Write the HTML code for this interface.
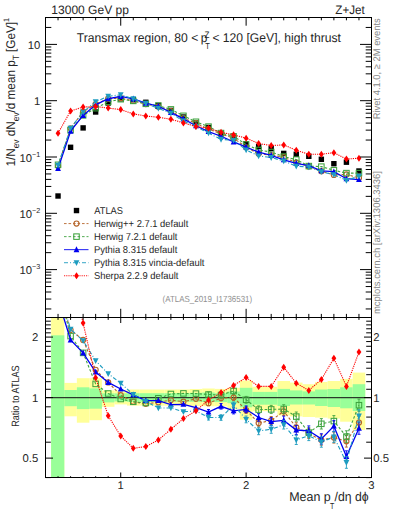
<!DOCTYPE html><html><head><meta charset="utf-8"><style>html,body{margin:0;padding:0;background:#fff;}svg{display:block;}</style></head><body>
<svg width="393" height="512" viewBox="0 0 393 512" text-rendering="geometricPrecision">
<rect width="393" height="512" fill="#fff"/>
<defs><clipPath id="cm"><rect x="45.5" y="17.5" width="326" height="300"/></clipPath><clipPath id="cr"><rect x="45.5" y="317.5" width="326" height="160"/></clipPath></defs>
<g clip-path="url(#cm)">
<rect x="55.34" y="193.30" width="5.40" height="5.40" fill="#000"/>
<rect x="67.88" y="144.60" width="5.40" height="5.40" fill="#000"/>
<rect x="80.42" y="125.20" width="5.40" height="5.40" fill="#000"/>
<rect x="92.95" y="109.30" width="5.40" height="5.40" fill="#000"/>
<rect x="105.49" y="100.30" width="5.40" height="5.40" fill="#000"/>
<rect x="118.03" y="96.10" width="5.40" height="5.40" fill="#000"/>
<rect x="130.57" y="97.00" width="5.40" height="5.40" fill="#000"/>
<rect x="143.11" y="99.60" width="5.40" height="5.40" fill="#000"/>
<rect x="155.65" y="102.70" width="5.40" height="5.40" fill="#000"/>
<rect x="168.18" y="107.70" width="5.40" height="5.40" fill="#000"/>
<rect x="180.72" y="114.30" width="5.40" height="5.40" fill="#000"/>
<rect x="193.26" y="120.20" width="5.40" height="5.40" fill="#000"/>
<rect x="205.80" y="124.80" width="5.40" height="5.40" fill="#000"/>
<rect x="218.34" y="131.10" width="5.40" height="5.40" fill="#000"/>
<rect x="230.88" y="135.50" width="5.40" height="5.40" fill="#000"/>
<rect x="243.42" y="141.10" width="5.40" height="5.40" fill="#000"/>
<rect x="255.95" y="143.90" width="5.40" height="5.40" fill="#000"/>
<rect x="268.49" y="146.00" width="5.40" height="5.40" fill="#000"/>
<rect x="281.03" y="150.70" width="5.40" height="5.40" fill="#000"/>
<rect x="293.57" y="151.60" width="5.40" height="5.40" fill="#000"/>
<rect x="306.11" y="153.60" width="5.40" height="5.40" fill="#000"/>
<rect x="318.65" y="156.60" width="5.40" height="5.40" fill="#000"/>
<rect x="331.18" y="161.00" width="5.40" height="5.40" fill="#000"/>
<rect x="343.72" y="159.50" width="5.40" height="5.40" fill="#000"/>
<rect x="356.26" y="168.30" width="5.40" height="5.40" fill="#000"/>
<polyline points="58.04,166.00 70.58,128.37 83.12,111.74 95.65,104.21 108.19,98.74 120.73,98.13 133.27,100.88 145.81,104.04 158.35,106.72 170.88,111.10 183.42,118.15 195.96,123.24 208.50,129.07 221.04,133.91 233.58,138.17 246.12,147.27 258.65,153.74 271.19,155.11 283.73,157.24 296.27,162.62 308.81,166.38 321.35,171.18 333.88,174.90 346.42,174.44 358.96,177.97" fill="none" stroke="#b5652a" stroke-width="1.1" stroke-dasharray="2.6,1.9"/>
<circle cx="58.04" cy="166.00" r="2.55" fill="none" stroke="#b5652a" stroke-width="1.15"/>
<circle cx="70.58" cy="128.37" r="2.55" fill="none" stroke="#b5652a" stroke-width="1.15"/>
<circle cx="83.12" cy="111.74" r="2.55" fill="none" stroke="#b5652a" stroke-width="1.15"/>
<circle cx="95.65" cy="104.21" r="2.55" fill="none" stroke="#b5652a" stroke-width="1.15"/>
<circle cx="108.19" cy="98.74" r="2.55" fill="none" stroke="#b5652a" stroke-width="1.15"/>
<circle cx="120.73" cy="98.13" r="2.55" fill="none" stroke="#b5652a" stroke-width="1.15"/>
<circle cx="133.27" cy="100.88" r="2.55" fill="none" stroke="#b5652a" stroke-width="1.15"/>
<circle cx="145.81" cy="104.04" r="2.55" fill="none" stroke="#b5652a" stroke-width="1.15"/>
<circle cx="158.35" cy="106.72" r="2.55" fill="none" stroke="#b5652a" stroke-width="1.15"/>
<circle cx="170.88" cy="111.10" r="2.55" fill="none" stroke="#b5652a" stroke-width="1.15"/>
<circle cx="183.42" cy="118.15" r="2.55" fill="none" stroke="#b5652a" stroke-width="1.15"/>
<circle cx="195.96" cy="123.24" r="2.55" fill="none" stroke="#b5652a" stroke-width="1.15"/>
<circle cx="208.50" cy="129.07" r="2.55" fill="none" stroke="#b5652a" stroke-width="1.15"/>
<circle cx="221.04" cy="133.91" r="2.55" fill="none" stroke="#b5652a" stroke-width="1.15"/>
<circle cx="233.58" cy="138.17" r="2.55" fill="none" stroke="#b5652a" stroke-width="1.15"/>
<circle cx="246.12" cy="147.27" r="2.55" fill="none" stroke="#b5652a" stroke-width="1.15"/>
<circle cx="258.65" cy="153.74" r="2.55" fill="none" stroke="#b5652a" stroke-width="1.15"/>
<circle cx="271.19" cy="155.11" r="2.55" fill="none" stroke="#b5652a" stroke-width="1.15"/>
<circle cx="283.73" cy="157.24" r="2.55" fill="none" stroke="#b5652a" stroke-width="1.15"/>
<circle cx="296.27" cy="162.62" r="2.55" fill="none" stroke="#b5652a" stroke-width="1.15"/>
<circle cx="308.81" cy="166.38" r="2.55" fill="none" stroke="#b5652a" stroke-width="1.15"/>
<circle cx="321.35" cy="171.18" r="2.55" fill="none" stroke="#b5652a" stroke-width="1.15"/>
<circle cx="333.88" cy="174.90" r="2.55" fill="none" stroke="#b5652a" stroke-width="1.15"/>
<circle cx="346.42" cy="174.44" r="2.55" fill="none" stroke="#b5652a" stroke-width="1.15"/>
<circle cx="358.96" cy="177.97" r="2.55" fill="none" stroke="#b5652a" stroke-width="1.15"/>
<polyline points="58.04,164.80 70.58,130.07 83.12,115.38 95.65,108.16 108.19,101.85 120.73,99.19 133.27,100.88 145.81,103.81 158.35,105.60 170.88,109.39 183.42,115.82 195.96,121.78 208.50,126.63 221.04,133.07 233.58,136.35 246.12,144.42 258.65,149.96 271.19,152.01 283.73,156.59 296.27,159.62 308.81,166.10 321.35,166.64 333.88,170.28 346.42,173.12 358.96,173.13" fill="none" stroke="#3fa33f" stroke-width="1.1" stroke-dasharray="2.6,1.9"/>
<rect x="55.29" y="162.05" width="5.50" height="5.50" fill="none" stroke="#3fa33f" stroke-width="1.05"/>
<rect x="67.83" y="127.32" width="5.50" height="5.50" fill="none" stroke="#3fa33f" stroke-width="1.05"/>
<rect x="80.37" y="112.63" width="5.50" height="5.50" fill="none" stroke="#3fa33f" stroke-width="1.05"/>
<rect x="92.90" y="105.41" width="5.50" height="5.50" fill="none" stroke="#3fa33f" stroke-width="1.05"/>
<rect x="105.44" y="99.10" width="5.50" height="5.50" fill="none" stroke="#3fa33f" stroke-width="1.05"/>
<rect x="117.98" y="96.44" width="5.50" height="5.50" fill="none" stroke="#3fa33f" stroke-width="1.05"/>
<rect x="130.52" y="98.13" width="5.50" height="5.50" fill="none" stroke="#3fa33f" stroke-width="1.05"/>
<rect x="143.06" y="101.06" width="5.50" height="5.50" fill="none" stroke="#3fa33f" stroke-width="1.05"/>
<rect x="155.60" y="102.85" width="5.50" height="5.50" fill="none" stroke="#3fa33f" stroke-width="1.05"/>
<rect x="168.13" y="106.64" width="5.50" height="5.50" fill="none" stroke="#3fa33f" stroke-width="1.05"/>
<rect x="180.67" y="113.07" width="5.50" height="5.50" fill="none" stroke="#3fa33f" stroke-width="1.05"/>
<rect x="193.21" y="119.03" width="5.50" height="5.50" fill="none" stroke="#3fa33f" stroke-width="1.05"/>
<rect x="205.75" y="123.88" width="5.50" height="5.50" fill="none" stroke="#3fa33f" stroke-width="1.05"/>
<rect x="218.29" y="130.32" width="5.50" height="5.50" fill="none" stroke="#3fa33f" stroke-width="1.05"/>
<rect x="230.83" y="133.60" width="5.50" height="5.50" fill="none" stroke="#3fa33f" stroke-width="1.05"/>
<rect x="243.37" y="141.67" width="5.50" height="5.50" fill="none" stroke="#3fa33f" stroke-width="1.05"/>
<rect x="255.90" y="147.21" width="5.50" height="5.50" fill="none" stroke="#3fa33f" stroke-width="1.05"/>
<rect x="268.44" y="149.26" width="5.50" height="5.50" fill="none" stroke="#3fa33f" stroke-width="1.05"/>
<rect x="280.98" y="153.84" width="5.50" height="5.50" fill="none" stroke="#3fa33f" stroke-width="1.05"/>
<rect x="293.52" y="156.87" width="5.50" height="5.50" fill="none" stroke="#3fa33f" stroke-width="1.05"/>
<rect x="306.06" y="163.35" width="5.50" height="5.50" fill="none" stroke="#3fa33f" stroke-width="1.05"/>
<rect x="318.60" y="163.89" width="5.50" height="5.50" fill="none" stroke="#3fa33f" stroke-width="1.05"/>
<rect x="331.13" y="167.53" width="5.50" height="5.50" fill="none" stroke="#3fa33f" stroke-width="1.05"/>
<rect x="343.67" y="170.37" width="5.50" height="5.50" fill="none" stroke="#3fa33f" stroke-width="1.05"/>
<rect x="356.21" y="170.38" width="5.50" height="5.50" fill="none" stroke="#3fa33f" stroke-width="1.05"/>
<polyline points="58.04,168.50 70.58,131.17 83.12,115.38 95.65,104.86 108.19,98.74 120.73,96.39 133.27,98.92 145.81,103.14 158.35,106.24 170.88,112.39 183.42,118.88 195.96,125.73 208.50,131.53 221.04,136.24 233.58,141.90 246.12,147.08 258.65,152.17 271.19,155.42 283.73,159.79 296.27,163.38 308.81,165.60 321.35,170.87 333.88,171.68 346.42,178.73 358.96,179.57" fill="none" stroke="#0000f0" stroke-width="1.3"/>
<path d="M58.04,165.20L60.94,171.00L55.14,171.00Z" fill="#0000f0"/>
<path d="M70.58,127.87L73.48,133.67L67.68,133.67Z" fill="#0000f0"/>
<path d="M83.12,112.08L86.02,117.88L80.22,117.88Z" fill="#0000f0"/>
<path d="M95.65,101.56L98.55,107.36L92.75,107.36Z" fill="#0000f0"/>
<path d="M108.19,95.44L111.09,101.24L105.29,101.24Z" fill="#0000f0"/>
<path d="M120.73,93.09L123.63,98.89L117.83,98.89Z" fill="#0000f0"/>
<path d="M133.27,95.62L136.17,101.42L130.37,101.42Z" fill="#0000f0"/>
<path d="M145.81,99.84L148.71,105.64L142.91,105.64Z" fill="#0000f0"/>
<path d="M158.35,102.94L161.25,108.74L155.45,108.74Z" fill="#0000f0"/>
<path d="M170.88,109.09L173.78,114.89L167.98,114.89Z" fill="#0000f0"/>
<path d="M183.42,115.58L186.32,121.38L180.52,121.38Z" fill="#0000f0"/>
<path d="M195.96,122.43L198.86,128.23L193.06,128.23Z" fill="#0000f0"/>
<path d="M208.50,128.23L211.40,134.03L205.60,134.03Z" fill="#0000f0"/>
<path d="M221.04,132.94L223.94,138.74L218.14,138.74Z" fill="#0000f0"/>
<path d="M233.58,138.60L236.48,144.40L230.68,144.40Z" fill="#0000f0"/>
<path d="M246.12,143.78L249.02,149.58L243.22,149.58Z" fill="#0000f0"/>
<path d="M258.65,148.87L261.55,154.67L255.75,154.67Z" fill="#0000f0"/>
<path d="M271.19,152.12L274.09,157.92L268.29,157.92Z" fill="#0000f0"/>
<path d="M283.73,156.49L286.63,162.29L280.83,162.29Z" fill="#0000f0"/>
<path d="M296.27,160.08L299.17,165.88L293.37,165.88Z" fill="#0000f0"/>
<path d="M308.81,162.30L311.71,168.10L305.91,168.10Z" fill="#0000f0"/>
<path d="M321.35,167.57L324.25,173.37L318.45,173.37Z" fill="#0000f0"/>
<path d="M333.88,168.38L336.78,174.18L330.98,174.18Z" fill="#0000f0"/>
<path d="M346.42,175.43L349.32,181.23L343.52,181.23Z" fill="#0000f0"/>
<path d="M358.96,176.27L361.86,182.07L356.06,182.07Z" fill="#0000f0"/>
<polyline points="58.04,165.30 70.58,128.14 83.12,111.96 95.65,101.66 108.19,96.31 120.73,94.77 133.27,98.83 145.81,103.39 158.35,108.31 170.88,113.31 183.42,120.95 195.96,126.65 208.50,133.07 221.04,139.37 233.58,140.30 246.12,149.91 258.65,155.96 271.19,157.58 283.73,160.99 296.27,166.15 308.81,166.97 321.35,171.74 333.88,174.71 346.42,180.38 358.96,176.13" fill="none" stroke="#1e9cc0" stroke-width="1.1" stroke-dasharray="4,2,1,2"/>
<path d="M58.04,168.60L60.94,162.80L55.14,162.80Z" fill="#1e9cc0"/>
<path d="M70.58,131.44L73.48,125.64L67.68,125.64Z" fill="#1e9cc0"/>
<path d="M83.12,115.26L86.02,109.46L80.22,109.46Z" fill="#1e9cc0"/>
<path d="M95.65,104.96L98.55,99.16L92.75,99.16Z" fill="#1e9cc0"/>
<path d="M108.19,99.61L111.09,93.81L105.29,93.81Z" fill="#1e9cc0"/>
<path d="M120.73,98.07L123.63,92.27L117.83,92.27Z" fill="#1e9cc0"/>
<path d="M133.27,102.13L136.17,96.33L130.37,96.33Z" fill="#1e9cc0"/>
<path d="M145.81,106.69L148.71,100.89L142.91,100.89Z" fill="#1e9cc0"/>
<path d="M158.35,111.61L161.25,105.81L155.45,105.81Z" fill="#1e9cc0"/>
<path d="M170.88,116.61L173.78,110.81L167.98,110.81Z" fill="#1e9cc0"/>
<path d="M183.42,124.25L186.32,118.45L180.52,118.45Z" fill="#1e9cc0"/>
<path d="M195.96,129.95L198.86,124.15L193.06,124.15Z" fill="#1e9cc0"/>
<path d="M208.50,136.37L211.40,130.57L205.60,130.57Z" fill="#1e9cc0"/>
<path d="M221.04,142.67L223.94,136.87L218.14,136.87Z" fill="#1e9cc0"/>
<path d="M233.58,143.60L236.48,137.80L230.68,137.80Z" fill="#1e9cc0"/>
<path d="M246.12,153.21L249.02,147.41L243.22,147.41Z" fill="#1e9cc0"/>
<path d="M258.65,159.26L261.55,153.46L255.75,153.46Z" fill="#1e9cc0"/>
<path d="M271.19,160.88L274.09,155.08L268.29,155.08Z" fill="#1e9cc0"/>
<path d="M283.73,164.29L286.63,158.49L280.83,158.49Z" fill="#1e9cc0"/>
<path d="M296.27,169.45L299.17,163.65L293.37,163.65Z" fill="#1e9cc0"/>
<path d="M308.81,170.27L311.71,164.47L305.91,164.47Z" fill="#1e9cc0"/>
<path d="M321.35,175.04L324.25,169.24L318.45,169.24Z" fill="#1e9cc0"/>
<path d="M333.88,178.01L336.78,172.21L330.98,172.21Z" fill="#1e9cc0"/>
<path d="M346.42,183.68L349.32,177.88L343.52,177.88Z" fill="#1e9cc0"/>
<path d="M358.96,179.43L361.86,173.63L356.06,173.63Z" fill="#1e9cc0"/>
<polyline points="58.04,133.20 70.58,111.00 83.12,107.03 95.65,106.45 108.19,108.10 120.73,109.58 133.27,113.90 145.81,116.02 158.35,117.28 170.88,119.28 183.42,122.88 195.96,126.57 208.50,128.20 221.04,132.37 233.58,134.81 246.12,138.17 258.65,143.46 271.19,145.56 283.73,144.88 296.27,150.27 308.81,154.28 321.35,154.23 333.88,152.69 346.42,159.06 358.96,158.23" fill="none" stroke="#ff0000" stroke-width="1.1" stroke-dasharray="1.2,1"/>
<path d="M58.04,129.70L60.44,133.20L58.04,136.70L55.64,133.20Z" fill="#ff0000"/>
<path d="M70.58,107.50L72.98,111.00L70.58,114.50L68.18,111.00Z" fill="#ff0000"/>
<path d="M83.12,103.53L85.52,107.03L83.12,110.53L80.72,107.03Z" fill="#ff0000"/>
<path d="M95.65,102.95L98.05,106.45L95.65,109.95L93.25,106.45Z" fill="#ff0000"/>
<path d="M108.19,104.60L110.59,108.10L108.19,111.60L105.79,108.10Z" fill="#ff0000"/>
<path d="M120.73,106.08L123.13,109.58L120.73,113.08L118.33,109.58Z" fill="#ff0000"/>
<path d="M133.27,110.40L135.67,113.90L133.27,117.40L130.87,113.90Z" fill="#ff0000"/>
<path d="M145.81,112.52L148.21,116.02L145.81,119.52L143.41,116.02Z" fill="#ff0000"/>
<path d="M158.35,113.78L160.75,117.28L158.35,120.78L155.95,117.28Z" fill="#ff0000"/>
<path d="M170.88,115.78L173.28,119.28L170.88,122.78L168.48,119.28Z" fill="#ff0000"/>
<path d="M183.42,119.38L185.82,122.88L183.42,126.38L181.02,122.88Z" fill="#ff0000"/>
<path d="M195.96,123.07L198.36,126.57L195.96,130.07L193.56,126.57Z" fill="#ff0000"/>
<path d="M208.50,124.70L210.90,128.20L208.50,131.70L206.10,128.20Z" fill="#ff0000"/>
<path d="M221.04,128.87L223.44,132.37L221.04,135.87L218.64,132.37Z" fill="#ff0000"/>
<path d="M233.58,131.31L235.98,134.81L233.58,138.31L231.18,134.81Z" fill="#ff0000"/>
<path d="M246.12,134.67L248.52,138.17L246.12,141.67L243.72,138.17Z" fill="#ff0000"/>
<path d="M258.65,139.96L261.05,143.46L258.65,146.96L256.25,143.46Z" fill="#ff0000"/>
<path d="M271.19,142.06L273.59,145.56L271.19,149.06L268.79,145.56Z" fill="#ff0000"/>
<path d="M283.73,141.38L286.13,144.88L283.73,148.38L281.33,144.88Z" fill="#ff0000"/>
<path d="M296.27,146.77L298.67,150.27L296.27,153.77L293.87,150.27Z" fill="#ff0000"/>
<path d="M308.81,150.78L311.21,154.28L308.81,157.78L306.41,154.28Z" fill="#ff0000"/>
<path d="M321.35,150.73L323.75,154.23L321.35,157.73L318.95,154.23Z" fill="#ff0000"/>
<path d="M333.88,149.19L336.28,152.69L333.88,156.19L331.48,152.69Z" fill="#ff0000"/>
<path d="M346.42,155.56L348.82,159.06L346.42,162.56L344.02,159.06Z" fill="#ff0000"/>
<path d="M358.96,154.73L361.36,158.23L358.96,161.73L356.56,158.23Z" fill="#ff0000"/>
</g>
<g clip-path="url(#cr)">
<rect x="51.10" y="300.00" width="13.21" height="190.00" fill="#ffff99"/>
<rect x="64.31" y="382.90" width="12.54" height="33.40" fill="#ffff99"/>
<rect x="76.85" y="378.20" width="12.54" height="44.50" fill="#ffff99"/>
<rect x="89.38" y="378.20" width="12.54" height="42.00" fill="#ffff99"/>
<rect x="101.92" y="390.40" width="12.54" height="16.40" fill="#ffff99"/>
<rect x="114.46" y="390.70" width="12.54" height="13.70" fill="#ffff99"/>
<rect x="127.00" y="389.50" width="12.54" height="16.10" fill="#ffff99"/>
<rect x="139.54" y="389.50" width="12.54" height="16.10" fill="#ffff99"/>
<rect x="152.08" y="389.50" width="12.54" height="16.10" fill="#ffff99"/>
<rect x="164.62" y="389.50" width="12.54" height="16.10" fill="#ffff99"/>
<rect x="177.15" y="389.50" width="12.54" height="16.10" fill="#ffff99"/>
<rect x="189.69" y="389.00" width="12.54" height="17.00" fill="#ffff99"/>
<rect x="202.23" y="388.50" width="12.54" height="17.70" fill="#ffff99"/>
<rect x="214.77" y="388.90" width="12.54" height="17.30" fill="#ffff99"/>
<rect x="227.31" y="387.80" width="12.54" height="21.40" fill="#ffff99"/>
<rect x="239.85" y="380.50" width="12.54" height="39.20" fill="#ffff99"/>
<rect x="252.38" y="386.80" width="12.54" height="24.40" fill="#ffff99"/>
<rect x="264.92" y="386.80" width="12.54" height="24.40" fill="#ffff99"/>
<rect x="277.46" y="381.00" width="12.54" height="34.40" fill="#ffff99"/>
<rect x="290.00" y="382.60" width="12.54" height="33.80" fill="#ffff99"/>
<rect x="302.54" y="384.20" width="12.54" height="32.80" fill="#ffff99"/>
<rect x="315.08" y="382.00" width="12.54" height="35.60" fill="#ffff99"/>
<rect x="327.62" y="381.00" width="12.54" height="37.60" fill="#ffff99"/>
<rect x="340.15" y="378.90" width="12.54" height="42.80" fill="#ffff99"/>
<rect x="352.69" y="372.60" width="12.54" height="57.40" fill="#ffff99"/>
<rect x="51.10" y="335.30" width="13.21" height="154.70" fill="#99ff99"/>
<rect x="64.31" y="390.00" width="12.54" height="16.20" fill="#99ff99"/>
<rect x="76.85" y="387.30" width="12.54" height="21.80" fill="#99ff99"/>
<rect x="89.38" y="388.40" width="12.54" height="20.30" fill="#99ff99"/>
<rect x="101.92" y="393.40" width="12.54" height="9.00" fill="#99ff99"/>
<rect x="114.46" y="393.40" width="12.54" height="8.00" fill="#99ff99"/>
<rect x="127.00" y="393.20" width="12.54" height="8.60" fill="#99ff99"/>
<rect x="139.54" y="393.20" width="12.54" height="8.60" fill="#99ff99"/>
<rect x="152.08" y="393.20" width="12.54" height="8.60" fill="#99ff99"/>
<rect x="164.62" y="393.20" width="12.54" height="8.60" fill="#99ff99"/>
<rect x="177.15" y="393.20" width="12.54" height="8.60" fill="#99ff99"/>
<rect x="189.69" y="392.80" width="12.54" height="9.00" fill="#99ff99"/>
<rect x="202.23" y="392.50" width="12.54" height="9.50" fill="#99ff99"/>
<rect x="214.77" y="393.30" width="12.54" height="8.80" fill="#99ff99"/>
<rect x="227.31" y="391.50" width="12.54" height="11.70" fill="#99ff99"/>
<rect x="239.85" y="387.80" width="12.54" height="19.50" fill="#99ff99"/>
<rect x="252.38" y="391.90" width="12.54" height="12.80" fill="#99ff99"/>
<rect x="264.92" y="391.90" width="12.54" height="12.80" fill="#99ff99"/>
<rect x="277.46" y="388.90" width="12.54" height="17.10" fill="#99ff99"/>
<rect x="290.00" y="390.40" width="12.54" height="14.10" fill="#99ff99"/>
<rect x="302.54" y="391.40" width="12.54" height="13.10" fill="#99ff99"/>
<rect x="315.08" y="389.50" width="12.54" height="16.50" fill="#99ff99"/>
<rect x="327.62" y="389.00" width="12.54" height="18.00" fill="#99ff99"/>
<rect x="340.15" y="387.30" width="12.54" height="21.00" fill="#99ff99"/>
<rect x="352.69" y="384.20" width="12.54" height="26.80" fill="#99ff99"/>
<line x1="45.5" y1="397.6" x2="371.5" y2="397.6" stroke="#2a3a2a" stroke-width="1.1"/>
<polyline points="58.04,290.50 70.58,330.00 83.12,339.90 95.65,369.80 108.19,382.40 120.73,395.20 133.27,401.80 145.81,403.80 158.35,402.30 170.88,400.10 183.42,401.70 195.96,398.80 208.50,403.20 221.04,398.00 233.58,397.50 246.12,410.00 258.65,423.10 271.19,420.50 283.73,411.30 296.27,427.30 308.81,433.60 321.35,440.00 333.88,437.60 346.42,441.30 358.96,422.50" fill="none" stroke="#b5652a" stroke-width="1.1" stroke-dasharray="2.6,1.9"/>
<circle cx="58.04" cy="290.50" r="2.55" fill="none" stroke="#b5652a" stroke-width="1.15"/>
<circle cx="70.58" cy="330.00" r="2.55" fill="none" stroke="#b5652a" stroke-width="1.15"/>
<circle cx="83.12" cy="339.90" r="2.55" fill="none" stroke="#b5652a" stroke-width="1.15"/>
<circle cx="95.65" cy="369.80" r="2.55" fill="none" stroke="#b5652a" stroke-width="1.15"/>
<circle cx="108.19" cy="382.40" r="2.55" fill="none" stroke="#b5652a" stroke-width="1.15"/>
<circle cx="120.73" cy="395.20" r="2.55" fill="none" stroke="#b5652a" stroke-width="1.15"/>
<circle cx="133.27" cy="401.80" r="2.55" fill="none" stroke="#b5652a" stroke-width="1.15"/>
<circle cx="145.81" cy="403.80" r="2.55" fill="none" stroke="#b5652a" stroke-width="1.15"/>
<circle cx="158.35" cy="402.30" r="2.55" fill="none" stroke="#b5652a" stroke-width="1.15"/>
<circle cx="170.88" cy="400.10" r="2.55" fill="none" stroke="#b5652a" stroke-width="1.15"/>
<circle cx="183.42" cy="401.70" r="2.55" fill="none" stroke="#b5652a" stroke-width="1.15"/>
<circle cx="195.96" cy="398.80" r="2.55" fill="none" stroke="#b5652a" stroke-width="1.15"/>
<path d="M208.50,400.70V405.70M207.00,400.70H210.00M207.00,405.70H210.00" stroke="#b5652a" stroke-width="0.9" fill="none"/>
<circle cx="208.50" cy="403.20" r="2.55" fill="none" stroke="#b5652a" stroke-width="1.15"/>
<path d="M221.04,395.20V400.80M219.54,395.20H222.54M219.54,400.80H222.54" stroke="#b5652a" stroke-width="0.9" fill="none"/>
<circle cx="221.04" cy="398.00" r="2.55" fill="none" stroke="#b5652a" stroke-width="1.15"/>
<path d="M233.58,394.40V400.60M232.08,394.40H235.08M232.08,400.60H235.08" stroke="#b5652a" stroke-width="0.9" fill="none"/>
<circle cx="233.58" cy="397.50" r="2.55" fill="none" stroke="#b5652a" stroke-width="1.15"/>
<path d="M246.12,406.60V413.40M244.62,406.60H247.62M244.62,413.40H247.62" stroke="#b5652a" stroke-width="0.9" fill="none"/>
<circle cx="246.12" cy="410.00" r="2.55" fill="none" stroke="#b5652a" stroke-width="1.15"/>
<path d="M258.65,419.40V426.80M257.15,419.40H260.15M257.15,426.80H260.15" stroke="#b5652a" stroke-width="0.9" fill="none"/>
<circle cx="258.65" cy="423.10" r="2.55" fill="none" stroke="#b5652a" stroke-width="1.15"/>
<path d="M271.19,416.50V424.50M269.69,416.50H272.69M269.69,424.50H272.69" stroke="#b5652a" stroke-width="0.9" fill="none"/>
<circle cx="271.19" cy="420.50" r="2.55" fill="none" stroke="#b5652a" stroke-width="1.15"/>
<path d="M283.73,407.00V415.60M282.23,407.00H285.23M282.23,415.60H285.23" stroke="#b5652a" stroke-width="0.9" fill="none"/>
<circle cx="283.73" cy="411.30" r="2.55" fill="none" stroke="#b5652a" stroke-width="1.15"/>
<path d="M296.27,422.70V431.90M294.77,422.70H297.77M294.77,431.90H297.77" stroke="#b5652a" stroke-width="0.9" fill="none"/>
<circle cx="296.27" cy="427.30" r="2.55" fill="none" stroke="#b5652a" stroke-width="1.15"/>
<path d="M308.81,428.70V438.50M307.31,428.70H310.31M307.31,438.50H310.31" stroke="#b5652a" stroke-width="0.9" fill="none"/>
<circle cx="308.81" cy="433.60" r="2.55" fill="none" stroke="#b5652a" stroke-width="1.15"/>
<path d="M321.35,434.80V445.20M319.85,434.80H322.85M319.85,445.20H322.85" stroke="#b5652a" stroke-width="0.9" fill="none"/>
<circle cx="321.35" cy="440.00" r="2.55" fill="none" stroke="#b5652a" stroke-width="1.15"/>
<path d="M333.88,432.10V443.10M332.38,432.10H335.38M332.38,443.10H335.38" stroke="#b5652a" stroke-width="0.9" fill="none"/>
<circle cx="333.88" cy="437.60" r="2.55" fill="none" stroke="#b5652a" stroke-width="1.15"/>
<path d="M346.42,435.50V447.10M344.92,435.50H347.92M344.92,447.10H347.92" stroke="#b5652a" stroke-width="0.9" fill="none"/>
<circle cx="346.42" cy="441.30" r="2.55" fill="none" stroke="#b5652a" stroke-width="1.15"/>
<path d="M358.96,416.40V428.60M357.46,416.40H360.46M357.46,428.60H360.46" stroke="#b5652a" stroke-width="0.9" fill="none"/>
<circle cx="358.96" cy="422.50" r="2.55" fill="none" stroke="#b5652a" stroke-width="1.15"/>
<polyline points="58.04,286.21 70.58,336.10 83.12,352.90 95.65,383.90 108.19,393.50 120.73,399.00 133.27,401.80 145.81,403.00 158.35,398.30 170.88,394.00 183.42,393.40 195.96,393.60 208.50,394.50 221.04,395.00 233.58,391.00 246.12,399.80 258.65,409.60 271.19,409.40 283.73,409.00 296.27,416.60 308.81,432.60 321.35,423.80 333.88,421.10 346.42,436.60 358.96,405.20" fill="none" stroke="#3fa33f" stroke-width="1.1" stroke-dasharray="2.6,1.9"/>
<rect x="55.29" y="283.46" width="5.50" height="5.50" fill="none" stroke="#3fa33f" stroke-width="1.05"/>
<rect x="67.83" y="333.35" width="5.50" height="5.50" fill="none" stroke="#3fa33f" stroke-width="1.05"/>
<rect x="80.37" y="350.15" width="5.50" height="5.50" fill="none" stroke="#3fa33f" stroke-width="1.05"/>
<rect x="92.90" y="381.15" width="5.50" height="5.50" fill="none" stroke="#3fa33f" stroke-width="1.05"/>
<rect x="105.44" y="390.75" width="5.50" height="5.50" fill="none" stroke="#3fa33f" stroke-width="1.05"/>
<rect x="117.98" y="396.25" width="5.50" height="5.50" fill="none" stroke="#3fa33f" stroke-width="1.05"/>
<rect x="130.52" y="399.05" width="5.50" height="5.50" fill="none" stroke="#3fa33f" stroke-width="1.05"/>
<rect x="143.06" y="400.25" width="5.50" height="5.50" fill="none" stroke="#3fa33f" stroke-width="1.05"/>
<rect x="155.60" y="395.55" width="5.50" height="5.50" fill="none" stroke="#3fa33f" stroke-width="1.05"/>
<rect x="168.13" y="391.25" width="5.50" height="5.50" fill="none" stroke="#3fa33f" stroke-width="1.05"/>
<rect x="180.67" y="390.65" width="5.50" height="5.50" fill="none" stroke="#3fa33f" stroke-width="1.05"/>
<rect x="193.21" y="390.85" width="5.50" height="5.50" fill="none" stroke="#3fa33f" stroke-width="1.05"/>
<path d="M208.50,392.00V397.00M207.00,392.00H210.00M207.00,397.00H210.00" stroke="#3fa33f" stroke-width="0.9" fill="none"/>
<rect x="205.75" y="391.75" width="5.50" height="5.50" fill="none" stroke="#3fa33f" stroke-width="1.05"/>
<path d="M221.04,392.20V397.80M219.54,392.20H222.54M219.54,397.80H222.54" stroke="#3fa33f" stroke-width="0.9" fill="none"/>
<rect x="218.29" y="392.25" width="5.50" height="5.50" fill="none" stroke="#3fa33f" stroke-width="1.05"/>
<path d="M233.58,387.90V394.10M232.08,387.90H235.08M232.08,394.10H235.08" stroke="#3fa33f" stroke-width="0.9" fill="none"/>
<rect x="230.83" y="388.25" width="5.50" height="5.50" fill="none" stroke="#3fa33f" stroke-width="1.05"/>
<path d="M246.12,396.40V403.20M244.62,396.40H247.62M244.62,403.20H247.62" stroke="#3fa33f" stroke-width="0.9" fill="none"/>
<rect x="243.37" y="397.05" width="5.50" height="5.50" fill="none" stroke="#3fa33f" stroke-width="1.05"/>
<path d="M258.65,405.90V413.30M257.15,405.90H260.15M257.15,413.30H260.15" stroke="#3fa33f" stroke-width="0.9" fill="none"/>
<rect x="255.90" y="406.85" width="5.50" height="5.50" fill="none" stroke="#3fa33f" stroke-width="1.05"/>
<path d="M271.19,405.40V413.40M269.69,405.40H272.69M269.69,413.40H272.69" stroke="#3fa33f" stroke-width="0.9" fill="none"/>
<rect x="268.44" y="406.65" width="5.50" height="5.50" fill="none" stroke="#3fa33f" stroke-width="1.05"/>
<path d="M283.73,404.70V413.30M282.23,404.70H285.23M282.23,413.30H285.23" stroke="#3fa33f" stroke-width="0.9" fill="none"/>
<rect x="280.98" y="406.25" width="5.50" height="5.50" fill="none" stroke="#3fa33f" stroke-width="1.05"/>
<path d="M296.27,412.00V421.20M294.77,412.00H297.77M294.77,421.20H297.77" stroke="#3fa33f" stroke-width="0.9" fill="none"/>
<rect x="293.52" y="413.85" width="5.50" height="5.50" fill="none" stroke="#3fa33f" stroke-width="1.05"/>
<path d="M308.81,427.70V437.50M307.31,427.70H310.31M307.31,437.50H310.31" stroke="#3fa33f" stroke-width="0.9" fill="none"/>
<rect x="306.06" y="429.85" width="5.50" height="5.50" fill="none" stroke="#3fa33f" stroke-width="1.05"/>
<path d="M321.35,418.60V429.00M319.85,418.60H322.85M319.85,429.00H322.85" stroke="#3fa33f" stroke-width="0.9" fill="none"/>
<rect x="318.60" y="421.05" width="5.50" height="5.50" fill="none" stroke="#3fa33f" stroke-width="1.05"/>
<path d="M333.88,415.60V426.60M332.38,415.60H335.38M332.38,426.60H335.38" stroke="#3fa33f" stroke-width="0.9" fill="none"/>
<rect x="331.13" y="418.35" width="5.50" height="5.50" fill="none" stroke="#3fa33f" stroke-width="1.05"/>
<path d="M346.42,430.80V442.40M344.92,430.80H347.92M344.92,442.40H347.92" stroke="#3fa33f" stroke-width="0.9" fill="none"/>
<rect x="343.67" y="433.85" width="5.50" height="5.50" fill="none" stroke="#3fa33f" stroke-width="1.05"/>
<path d="M358.96,399.10V411.30M357.46,399.10H360.46M357.46,411.30H360.46" stroke="#3fa33f" stroke-width="0.9" fill="none"/>
<rect x="356.21" y="402.45" width="5.50" height="5.50" fill="none" stroke="#3fa33f" stroke-width="1.05"/>
<polyline points="58.04,299.42 70.58,340.00 83.12,352.90 95.65,372.10 108.19,382.40 120.73,389.00 133.27,394.80 145.81,400.60 158.35,400.60 170.88,404.70 183.42,404.30 195.96,407.70 208.50,412.00 221.04,406.30 233.58,410.80 246.12,409.30 258.65,417.50 271.19,421.60 283.73,420.40 296.27,430.00 308.81,430.80 321.35,438.90 333.88,426.10 346.42,456.60 358.96,428.20" fill="none" stroke="#0000f0" stroke-width="1.3"/>
<path d="M58.04,296.12L60.94,301.92L55.14,301.92Z" fill="#0000f0"/>
<path d="M70.58,336.70L73.48,342.50L67.68,342.50Z" fill="#0000f0"/>
<path d="M83.12,349.60L86.02,355.40L80.22,355.40Z" fill="#0000f0"/>
<path d="M95.65,368.80L98.55,374.60L92.75,374.60Z" fill="#0000f0"/>
<path d="M108.19,379.10L111.09,384.90L105.29,384.90Z" fill="#0000f0"/>
<path d="M120.73,385.70L123.63,391.50L117.83,391.50Z" fill="#0000f0"/>
<path d="M133.27,391.50L136.17,397.30L130.37,397.30Z" fill="#0000f0"/>
<path d="M145.81,397.30L148.71,403.10L142.91,403.10Z" fill="#0000f0"/>
<path d="M158.35,397.30L161.25,403.10L155.45,403.10Z" fill="#0000f0"/>
<path d="M170.88,401.40L173.78,407.20L167.98,407.20Z" fill="#0000f0"/>
<path d="M183.42,401.00L186.32,406.80L180.52,406.80Z" fill="#0000f0"/>
<path d="M195.96,404.40L198.86,410.20L193.06,410.20Z" fill="#0000f0"/>
<path d="M208.50,409.50V414.50M207.00,409.50H210.00M207.00,414.50H210.00" stroke="#0000f0" stroke-width="0.9" fill="none"/>
<path d="M208.50,408.70L211.40,414.50L205.60,414.50Z" fill="#0000f0"/>
<path d="M221.04,403.50V409.10M219.54,403.50H222.54M219.54,409.10H222.54" stroke="#0000f0" stroke-width="0.9" fill="none"/>
<path d="M221.04,403.00L223.94,408.80L218.14,408.80Z" fill="#0000f0"/>
<path d="M233.58,407.70V413.90M232.08,407.70H235.08M232.08,413.90H235.08" stroke="#0000f0" stroke-width="0.9" fill="none"/>
<path d="M233.58,407.50L236.48,413.30L230.68,413.30Z" fill="#0000f0"/>
<path d="M246.12,405.90V412.70M244.62,405.90H247.62M244.62,412.70H247.62" stroke="#0000f0" stroke-width="0.9" fill="none"/>
<path d="M246.12,406.00L249.02,411.80L243.22,411.80Z" fill="#0000f0"/>
<path d="M258.65,413.80V421.20M257.15,413.80H260.15M257.15,421.20H260.15" stroke="#0000f0" stroke-width="0.9" fill="none"/>
<path d="M258.65,414.20L261.55,420.00L255.75,420.00Z" fill="#0000f0"/>
<path d="M271.19,417.60V425.60M269.69,417.60H272.69M269.69,425.60H272.69" stroke="#0000f0" stroke-width="0.9" fill="none"/>
<path d="M271.19,418.30L274.09,424.10L268.29,424.10Z" fill="#0000f0"/>
<path d="M283.73,416.10V424.70M282.23,416.10H285.23M282.23,424.70H285.23" stroke="#0000f0" stroke-width="0.9" fill="none"/>
<path d="M283.73,417.10L286.63,422.90L280.83,422.90Z" fill="#0000f0"/>
<path d="M296.27,425.40V434.60M294.77,425.40H297.77M294.77,434.60H297.77" stroke="#0000f0" stroke-width="0.9" fill="none"/>
<path d="M296.27,426.70L299.17,432.50L293.37,432.50Z" fill="#0000f0"/>
<path d="M308.81,425.90V435.70M307.31,425.90H310.31M307.31,435.70H310.31" stroke="#0000f0" stroke-width="0.9" fill="none"/>
<path d="M308.81,427.50L311.71,433.30L305.91,433.30Z" fill="#0000f0"/>
<path d="M321.35,433.70V444.10M319.85,433.70H322.85M319.85,444.10H322.85" stroke="#0000f0" stroke-width="0.9" fill="none"/>
<path d="M321.35,435.60L324.25,441.40L318.45,441.40Z" fill="#0000f0"/>
<path d="M333.88,420.60V431.60M332.38,420.60H335.38M332.38,431.60H335.38" stroke="#0000f0" stroke-width="0.9" fill="none"/>
<path d="M333.88,422.80L336.78,428.60L330.98,428.60Z" fill="#0000f0"/>
<path d="M346.42,450.80V462.40M344.92,450.80H347.92M344.92,462.40H347.92" stroke="#0000f0" stroke-width="0.9" fill="none"/>
<path d="M346.42,453.30L349.32,459.10L343.52,459.10Z" fill="#0000f0"/>
<path d="M358.96,422.10V434.30M357.46,422.10H360.46M357.46,434.30H360.46" stroke="#0000f0" stroke-width="0.9" fill="none"/>
<path d="M358.96,424.90L361.86,430.70L356.06,430.70Z" fill="#0000f0"/>
<polyline points="58.04,288.00 70.58,329.20 83.12,340.70 95.65,360.70 108.19,373.70 120.73,383.20 133.27,394.50 145.81,401.50 158.35,408.00 170.88,408.00 183.42,411.70 195.96,411.00 208.50,417.50 221.04,417.50 233.58,405.10 246.12,419.40 258.65,431.00 271.19,429.30 283.73,424.70 296.27,439.90 308.81,435.70 321.35,442.00 333.88,436.90 346.42,462.50 358.96,415.90" fill="none" stroke="#1e9cc0" stroke-width="1.1" stroke-dasharray="4,2,1,2"/>
<path d="M58.04,291.30L60.94,285.50L55.14,285.50Z" fill="#1e9cc0"/>
<path d="M70.58,332.50L73.48,326.70L67.68,326.70Z" fill="#1e9cc0"/>
<path d="M83.12,344.00L86.02,338.20L80.22,338.20Z" fill="#1e9cc0"/>
<path d="M95.65,364.00L98.55,358.20L92.75,358.20Z" fill="#1e9cc0"/>
<path d="M108.19,377.00L111.09,371.20L105.29,371.20Z" fill="#1e9cc0"/>
<path d="M120.73,386.50L123.63,380.70L117.83,380.70Z" fill="#1e9cc0"/>
<path d="M133.27,397.80L136.17,392.00L130.37,392.00Z" fill="#1e9cc0"/>
<path d="M145.81,404.80L148.71,399.00L142.91,399.00Z" fill="#1e9cc0"/>
<path d="M158.35,411.30L161.25,405.50L155.45,405.50Z" fill="#1e9cc0"/>
<path d="M170.88,411.30L173.78,405.50L167.98,405.50Z" fill="#1e9cc0"/>
<path d="M183.42,415.00L186.32,409.20L180.52,409.20Z" fill="#1e9cc0"/>
<path d="M195.96,414.30L198.86,408.50L193.06,408.50Z" fill="#1e9cc0"/>
<path d="M208.50,415.00V420.00M207.00,415.00H210.00M207.00,420.00H210.00" stroke="#1e9cc0" stroke-width="0.9" fill="none"/>
<path d="M208.50,420.80L211.40,415.00L205.60,415.00Z" fill="#1e9cc0"/>
<path d="M221.04,414.70V420.30M219.54,414.70H222.54M219.54,420.30H222.54" stroke="#1e9cc0" stroke-width="0.9" fill="none"/>
<path d="M221.04,420.80L223.94,415.00L218.14,415.00Z" fill="#1e9cc0"/>
<path d="M233.58,402.00V408.20M232.08,402.00H235.08M232.08,408.20H235.08" stroke="#1e9cc0" stroke-width="0.9" fill="none"/>
<path d="M233.58,408.40L236.48,402.60L230.68,402.60Z" fill="#1e9cc0"/>
<path d="M246.12,416.00V422.80M244.62,416.00H247.62M244.62,422.80H247.62" stroke="#1e9cc0" stroke-width="0.9" fill="none"/>
<path d="M246.12,422.70L249.02,416.90L243.22,416.90Z" fill="#1e9cc0"/>
<path d="M258.65,427.30V434.70M257.15,427.30H260.15M257.15,434.70H260.15" stroke="#1e9cc0" stroke-width="0.9" fill="none"/>
<path d="M258.65,434.30L261.55,428.50L255.75,428.50Z" fill="#1e9cc0"/>
<path d="M271.19,425.30V433.30M269.69,425.30H272.69M269.69,433.30H272.69" stroke="#1e9cc0" stroke-width="0.9" fill="none"/>
<path d="M271.19,432.60L274.09,426.80L268.29,426.80Z" fill="#1e9cc0"/>
<path d="M283.73,420.40V429.00M282.23,420.40H285.23M282.23,429.00H285.23" stroke="#1e9cc0" stroke-width="0.9" fill="none"/>
<path d="M283.73,428.00L286.63,422.20L280.83,422.20Z" fill="#1e9cc0"/>
<path d="M296.27,435.30V444.50M294.77,435.30H297.77M294.77,444.50H297.77" stroke="#1e9cc0" stroke-width="0.9" fill="none"/>
<path d="M296.27,443.20L299.17,437.40L293.37,437.40Z" fill="#1e9cc0"/>
<path d="M308.81,430.80V440.60M307.31,430.80H310.31M307.31,440.60H310.31" stroke="#1e9cc0" stroke-width="0.9" fill="none"/>
<path d="M308.81,439.00L311.71,433.20L305.91,433.20Z" fill="#1e9cc0"/>
<path d="M321.35,436.80V447.20M319.85,436.80H322.85M319.85,447.20H322.85" stroke="#1e9cc0" stroke-width="0.9" fill="none"/>
<path d="M321.35,445.30L324.25,439.50L318.45,439.50Z" fill="#1e9cc0"/>
<path d="M333.88,431.40V442.40M332.38,431.40H335.38M332.38,442.40H335.38" stroke="#1e9cc0" stroke-width="0.9" fill="none"/>
<path d="M333.88,440.20L336.78,434.40L330.98,434.40Z" fill="#1e9cc0"/>
<path d="M346.42,456.70V468.30M344.92,456.70H347.92M344.92,468.30H347.92" stroke="#1e9cc0" stroke-width="0.9" fill="none"/>
<path d="M346.42,465.80L349.32,460.00L343.52,460.00Z" fill="#1e9cc0"/>
<path d="M358.96,409.80V422.00M357.46,409.80H360.46M357.46,422.00H360.46" stroke="#1e9cc0" stroke-width="0.9" fill="none"/>
<path d="M358.96,419.20L361.86,413.40L356.06,413.40Z" fill="#1e9cc0"/>
<polyline points="58.04,173.39 70.58,268.00 83.12,323.10 95.65,377.80 108.19,415.80 120.73,436.10 133.27,448.30 145.81,446.60 158.35,440.00 170.88,429.30 183.42,418.60 195.96,410.70 208.50,400.10 221.04,392.50 233.58,385.50 246.12,377.50 258.65,386.40 271.19,386.40 283.73,367.20 296.27,383.20 308.81,390.40 321.35,379.50 333.88,358.30 346.42,386.40 358.96,352.00" fill="none" stroke="#ff0000" stroke-width="1.1" stroke-dasharray="1.2,1"/>
<path d="M58.04,169.89L60.44,173.39L58.04,176.89L55.64,173.39Z" fill="#ff0000"/>
<path d="M70.58,264.50L72.98,268.00L70.58,271.50L68.18,268.00Z" fill="#ff0000"/>
<path d="M83.12,319.60L85.52,323.10L83.12,326.60L80.72,323.10Z" fill="#ff0000"/>
<path d="M95.65,374.30L98.05,377.80L95.65,381.30L93.25,377.80Z" fill="#ff0000"/>
<path d="M108.19,412.30L110.59,415.80L108.19,419.30L105.79,415.80Z" fill="#ff0000"/>
<path d="M120.73,432.60L123.13,436.10L120.73,439.60L118.33,436.10Z" fill="#ff0000"/>
<path d="M133.27,444.80L135.67,448.30L133.27,451.80L130.87,448.30Z" fill="#ff0000"/>
<path d="M145.81,443.10L148.21,446.60L145.81,450.10L143.41,446.60Z" fill="#ff0000"/>
<path d="M158.35,436.50L160.75,440.00L158.35,443.50L155.95,440.00Z" fill="#ff0000"/>
<path d="M170.88,425.80L173.28,429.30L170.88,432.80L168.48,429.30Z" fill="#ff0000"/>
<path d="M183.42,415.10L185.82,418.60L183.42,422.10L181.02,418.60Z" fill="#ff0000"/>
<path d="M195.96,407.20L198.36,410.70L195.96,414.20L193.56,410.70Z" fill="#ff0000"/>
<path d="M208.50,396.60L210.90,400.10L208.50,403.60L206.10,400.10Z" fill="#ff0000"/>
<path d="M221.04,389.00L223.44,392.50L221.04,396.00L218.64,392.50Z" fill="#ff0000"/>
<path d="M233.58,382.00L235.98,385.50L233.58,389.00L231.18,385.50Z" fill="#ff0000"/>
<path d="M246.12,374.00L248.52,377.50L246.12,381.00L243.72,377.50Z" fill="#ff0000"/>
<path d="M258.65,382.90L261.05,386.40L258.65,389.90L256.25,386.40Z" fill="#ff0000"/>
<path d="M271.19,382.90L273.59,386.40L271.19,389.90L268.79,386.40Z" fill="#ff0000"/>
<path d="M283.73,363.70L286.13,367.20L283.73,370.70L281.33,367.20Z" fill="#ff0000"/>
<path d="M296.27,379.70L298.67,383.20L296.27,386.70L293.87,383.20Z" fill="#ff0000"/>
<path d="M308.81,386.90L311.21,390.40L308.81,393.90L306.41,390.40Z" fill="#ff0000"/>
<path d="M321.35,376.00L323.75,379.50L321.35,383.00L318.95,379.50Z" fill="#ff0000"/>
<path d="M333.88,354.80L336.28,358.30L333.88,361.80L331.48,358.30Z" fill="#ff0000"/>
<path d="M346.42,382.90L348.82,386.40L346.42,389.90L344.02,386.40Z" fill="#ff0000"/>
<path d="M358.96,348.50L361.36,352.00L358.96,355.50L356.56,352.00Z" fill="#ff0000"/>
</g>
<line x1="45.50" y1="308.95" x2="51.30" y2="308.95" stroke="#000" stroke-width="1.0"/><line x1="371.50" y1="308.95" x2="365.70" y2="308.95" stroke="#000" stroke-width="1.0"/><line x1="45.50" y1="299.04" x2="51.30" y2="299.04" stroke="#000" stroke-width="1.0"/><line x1="371.50" y1="299.04" x2="365.70" y2="299.04" stroke="#000" stroke-width="1.0"/><line x1="45.50" y1="292.00" x2="51.30" y2="292.00" stroke="#000" stroke-width="1.0"/><line x1="371.50" y1="292.00" x2="365.70" y2="292.00" stroke="#000" stroke-width="1.0"/><line x1="45.50" y1="286.55" x2="51.30" y2="286.55" stroke="#000" stroke-width="1.0"/><line x1="371.50" y1="286.55" x2="365.70" y2="286.55" stroke="#000" stroke-width="1.0"/><line x1="45.50" y1="282.09" x2="51.30" y2="282.09" stroke="#000" stroke-width="1.0"/><line x1="371.50" y1="282.09" x2="365.70" y2="282.09" stroke="#000" stroke-width="1.0"/><line x1="45.50" y1="278.32" x2="51.30" y2="278.32" stroke="#000" stroke-width="1.0"/><line x1="371.50" y1="278.32" x2="365.70" y2="278.32" stroke="#000" stroke-width="1.0"/><line x1="45.50" y1="275.06" x2="51.30" y2="275.06" stroke="#000" stroke-width="1.0"/><line x1="371.50" y1="275.06" x2="365.70" y2="275.06" stroke="#000" stroke-width="1.0"/><line x1="45.50" y1="272.18" x2="51.30" y2="272.18" stroke="#000" stroke-width="1.0"/><line x1="371.50" y1="272.18" x2="365.70" y2="272.18" stroke="#000" stroke-width="1.0"/><line x1="45.50" y1="269.60" x2="57.00" y2="269.60" stroke="#000" stroke-width="1.0"/><line x1="371.50" y1="269.60" x2="360.00" y2="269.60" stroke="#000" stroke-width="1.0"/><line x1="45.50" y1="252.65" x2="51.30" y2="252.65" stroke="#000" stroke-width="1.0"/><line x1="371.50" y1="252.65" x2="365.70" y2="252.65" stroke="#000" stroke-width="1.0"/><line x1="45.50" y1="242.74" x2="51.30" y2="242.74" stroke="#000" stroke-width="1.0"/><line x1="371.50" y1="242.74" x2="365.70" y2="242.74" stroke="#000" stroke-width="1.0"/><line x1="45.50" y1="235.70" x2="51.30" y2="235.70" stroke="#000" stroke-width="1.0"/><line x1="371.50" y1="235.70" x2="365.70" y2="235.70" stroke="#000" stroke-width="1.0"/><line x1="45.50" y1="230.25" x2="51.30" y2="230.25" stroke="#000" stroke-width="1.0"/><line x1="371.50" y1="230.25" x2="365.70" y2="230.25" stroke="#000" stroke-width="1.0"/><line x1="45.50" y1="225.79" x2="51.30" y2="225.79" stroke="#000" stroke-width="1.0"/><line x1="371.50" y1="225.79" x2="365.70" y2="225.79" stroke="#000" stroke-width="1.0"/><line x1="45.50" y1="222.02" x2="51.30" y2="222.02" stroke="#000" stroke-width="1.0"/><line x1="371.50" y1="222.02" x2="365.70" y2="222.02" stroke="#000" stroke-width="1.0"/><line x1="45.50" y1="218.76" x2="51.30" y2="218.76" stroke="#000" stroke-width="1.0"/><line x1="371.50" y1="218.76" x2="365.70" y2="218.76" stroke="#000" stroke-width="1.0"/><line x1="45.50" y1="215.88" x2="51.30" y2="215.88" stroke="#000" stroke-width="1.0"/><line x1="371.50" y1="215.88" x2="365.70" y2="215.88" stroke="#000" stroke-width="1.0"/><line x1="45.50" y1="213.30" x2="57.00" y2="213.30" stroke="#000" stroke-width="1.0"/><line x1="371.50" y1="213.30" x2="360.00" y2="213.30" stroke="#000" stroke-width="1.0"/><line x1="45.50" y1="196.35" x2="51.30" y2="196.35" stroke="#000" stroke-width="1.0"/><line x1="371.50" y1="196.35" x2="365.70" y2="196.35" stroke="#000" stroke-width="1.0"/><line x1="45.50" y1="186.44" x2="51.30" y2="186.44" stroke="#000" stroke-width="1.0"/><line x1="371.50" y1="186.44" x2="365.70" y2="186.44" stroke="#000" stroke-width="1.0"/><line x1="45.50" y1="179.40" x2="51.30" y2="179.40" stroke="#000" stroke-width="1.0"/><line x1="371.50" y1="179.40" x2="365.70" y2="179.40" stroke="#000" stroke-width="1.0"/><line x1="45.50" y1="173.95" x2="51.30" y2="173.95" stroke="#000" stroke-width="1.0"/><line x1="371.50" y1="173.95" x2="365.70" y2="173.95" stroke="#000" stroke-width="1.0"/><line x1="45.50" y1="169.49" x2="51.30" y2="169.49" stroke="#000" stroke-width="1.0"/><line x1="371.50" y1="169.49" x2="365.70" y2="169.49" stroke="#000" stroke-width="1.0"/><line x1="45.50" y1="165.72" x2="51.30" y2="165.72" stroke="#000" stroke-width="1.0"/><line x1="371.50" y1="165.72" x2="365.70" y2="165.72" stroke="#000" stroke-width="1.0"/><line x1="45.50" y1="162.46" x2="51.30" y2="162.46" stroke="#000" stroke-width="1.0"/><line x1="371.50" y1="162.46" x2="365.70" y2="162.46" stroke="#000" stroke-width="1.0"/><line x1="45.50" y1="159.58" x2="51.30" y2="159.58" stroke="#000" stroke-width="1.0"/><line x1="371.50" y1="159.58" x2="365.70" y2="159.58" stroke="#000" stroke-width="1.0"/><line x1="45.50" y1="157.00" x2="57.00" y2="157.00" stroke="#000" stroke-width="1.0"/><line x1="371.50" y1="157.00" x2="360.00" y2="157.00" stroke="#000" stroke-width="1.0"/><line x1="45.50" y1="140.05" x2="51.30" y2="140.05" stroke="#000" stroke-width="1.0"/><line x1="371.50" y1="140.05" x2="365.70" y2="140.05" stroke="#000" stroke-width="1.0"/><line x1="45.50" y1="130.14" x2="51.30" y2="130.14" stroke="#000" stroke-width="1.0"/><line x1="371.50" y1="130.14" x2="365.70" y2="130.14" stroke="#000" stroke-width="1.0"/><line x1="45.50" y1="123.10" x2="51.30" y2="123.10" stroke="#000" stroke-width="1.0"/><line x1="371.50" y1="123.10" x2="365.70" y2="123.10" stroke="#000" stroke-width="1.0"/><line x1="45.50" y1="117.65" x2="51.30" y2="117.65" stroke="#000" stroke-width="1.0"/><line x1="371.50" y1="117.65" x2="365.70" y2="117.65" stroke="#000" stroke-width="1.0"/><line x1="45.50" y1="113.19" x2="51.30" y2="113.19" stroke="#000" stroke-width="1.0"/><line x1="371.50" y1="113.19" x2="365.70" y2="113.19" stroke="#000" stroke-width="1.0"/><line x1="45.50" y1="109.42" x2="51.30" y2="109.42" stroke="#000" stroke-width="1.0"/><line x1="371.50" y1="109.42" x2="365.70" y2="109.42" stroke="#000" stroke-width="1.0"/><line x1="45.50" y1="106.16" x2="51.30" y2="106.16" stroke="#000" stroke-width="1.0"/><line x1="371.50" y1="106.16" x2="365.70" y2="106.16" stroke="#000" stroke-width="1.0"/><line x1="45.50" y1="103.28" x2="51.30" y2="103.28" stroke="#000" stroke-width="1.0"/><line x1="371.50" y1="103.28" x2="365.70" y2="103.28" stroke="#000" stroke-width="1.0"/><line x1="45.50" y1="100.70" x2="57.00" y2="100.70" stroke="#000" stroke-width="1.0"/><line x1="371.50" y1="100.70" x2="360.00" y2="100.70" stroke="#000" stroke-width="1.0"/><line x1="45.50" y1="83.75" x2="51.30" y2="83.75" stroke="#000" stroke-width="1.0"/><line x1="371.50" y1="83.75" x2="365.70" y2="83.75" stroke="#000" stroke-width="1.0"/><line x1="45.50" y1="73.84" x2="51.30" y2="73.84" stroke="#000" stroke-width="1.0"/><line x1="371.50" y1="73.84" x2="365.70" y2="73.84" stroke="#000" stroke-width="1.0"/><line x1="45.50" y1="66.80" x2="51.30" y2="66.80" stroke="#000" stroke-width="1.0"/><line x1="371.50" y1="66.80" x2="365.70" y2="66.80" stroke="#000" stroke-width="1.0"/><line x1="45.50" y1="61.35" x2="51.30" y2="61.35" stroke="#000" stroke-width="1.0"/><line x1="371.50" y1="61.35" x2="365.70" y2="61.35" stroke="#000" stroke-width="1.0"/><line x1="45.50" y1="56.89" x2="51.30" y2="56.89" stroke="#000" stroke-width="1.0"/><line x1="371.50" y1="56.89" x2="365.70" y2="56.89" stroke="#000" stroke-width="1.0"/><line x1="45.50" y1="53.12" x2="51.30" y2="53.12" stroke="#000" stroke-width="1.0"/><line x1="371.50" y1="53.12" x2="365.70" y2="53.12" stroke="#000" stroke-width="1.0"/><line x1="45.50" y1="49.86" x2="51.30" y2="49.86" stroke="#000" stroke-width="1.0"/><line x1="371.50" y1="49.86" x2="365.70" y2="49.86" stroke="#000" stroke-width="1.0"/><line x1="45.50" y1="46.98" x2="51.30" y2="46.98" stroke="#000" stroke-width="1.0"/><line x1="371.50" y1="46.98" x2="365.70" y2="46.98" stroke="#000" stroke-width="1.0"/><line x1="45.50" y1="44.40" x2="57.00" y2="44.40" stroke="#000" stroke-width="1.0"/><line x1="371.50" y1="44.40" x2="360.00" y2="44.40" stroke="#000" stroke-width="1.0"/><line x1="45.50" y1="27.45" x2="51.30" y2="27.45" stroke="#000" stroke-width="1.0"/><line x1="371.50" y1="27.45" x2="365.70" y2="27.45" stroke="#000" stroke-width="1.0"/><line x1="45.50" y1="17.54" x2="51.30" y2="17.54" stroke="#000" stroke-width="1.0"/><line x1="371.50" y1="17.54" x2="365.70" y2="17.54" stroke="#000" stroke-width="1.0"/><line x1="58.04" y1="17.50" x2="58.04" y2="20.30" stroke="#000" stroke-width="1.0"/><line x1="58.04" y1="317.50" x2="58.04" y2="313.90" stroke="#000" stroke-width="1.0"/><line x1="58.04" y1="317.50" x2="58.04" y2="319.90" stroke="#000" stroke-width="1.0"/><line x1="58.04" y1="477.50" x2="58.04" y2="476.20" stroke="#000" stroke-width="1.0"/><line x1="70.58" y1="17.50" x2="70.58" y2="20.30" stroke="#000" stroke-width="1.0"/><line x1="70.58" y1="317.50" x2="70.58" y2="313.90" stroke="#000" stroke-width="1.0"/><line x1="70.58" y1="317.50" x2="70.58" y2="319.90" stroke="#000" stroke-width="1.0"/><line x1="70.58" y1="477.50" x2="70.58" y2="476.20" stroke="#000" stroke-width="1.0"/><line x1="83.12" y1="17.50" x2="83.12" y2="20.30" stroke="#000" stroke-width="1.0"/><line x1="83.12" y1="317.50" x2="83.12" y2="313.90" stroke="#000" stroke-width="1.0"/><line x1="83.12" y1="317.50" x2="83.12" y2="319.90" stroke="#000" stroke-width="1.0"/><line x1="83.12" y1="477.50" x2="83.12" y2="476.20" stroke="#000" stroke-width="1.0"/><line x1="95.65" y1="17.50" x2="95.65" y2="20.30" stroke="#000" stroke-width="1.0"/><line x1="95.65" y1="317.50" x2="95.65" y2="313.90" stroke="#000" stroke-width="1.0"/><line x1="95.65" y1="317.50" x2="95.65" y2="319.90" stroke="#000" stroke-width="1.0"/><line x1="95.65" y1="477.50" x2="95.65" y2="476.20" stroke="#000" stroke-width="1.0"/><line x1="108.19" y1="17.50" x2="108.19" y2="20.30" stroke="#000" stroke-width="1.0"/><line x1="108.19" y1="317.50" x2="108.19" y2="313.90" stroke="#000" stroke-width="1.0"/><line x1="108.19" y1="317.50" x2="108.19" y2="319.90" stroke="#000" stroke-width="1.0"/><line x1="108.19" y1="477.50" x2="108.19" y2="476.20" stroke="#000" stroke-width="1.0"/><line x1="120.73" y1="17.50" x2="120.73" y2="25.70" stroke="#000" stroke-width="1.0"/><line x1="120.73" y1="317.50" x2="120.73" y2="308.80" stroke="#000" stroke-width="1.0"/><line x1="120.73" y1="317.50" x2="120.73" y2="323.00" stroke="#000" stroke-width="1.0"/><line x1="120.73" y1="477.50" x2="120.73" y2="472.50" stroke="#000" stroke-width="1.0"/><line x1="133.27" y1="17.50" x2="133.27" y2="20.30" stroke="#000" stroke-width="1.0"/><line x1="133.27" y1="317.50" x2="133.27" y2="313.90" stroke="#000" stroke-width="1.0"/><line x1="133.27" y1="317.50" x2="133.27" y2="319.90" stroke="#000" stroke-width="1.0"/><line x1="133.27" y1="477.50" x2="133.27" y2="476.20" stroke="#000" stroke-width="1.0"/><line x1="145.81" y1="17.50" x2="145.81" y2="20.30" stroke="#000" stroke-width="1.0"/><line x1="145.81" y1="317.50" x2="145.81" y2="313.90" stroke="#000" stroke-width="1.0"/><line x1="145.81" y1="317.50" x2="145.81" y2="319.90" stroke="#000" stroke-width="1.0"/><line x1="145.81" y1="477.50" x2="145.81" y2="476.20" stroke="#000" stroke-width="1.0"/><line x1="158.35" y1="17.50" x2="158.35" y2="20.30" stroke="#000" stroke-width="1.0"/><line x1="158.35" y1="317.50" x2="158.35" y2="313.90" stroke="#000" stroke-width="1.0"/><line x1="158.35" y1="317.50" x2="158.35" y2="319.90" stroke="#000" stroke-width="1.0"/><line x1="158.35" y1="477.50" x2="158.35" y2="476.20" stroke="#000" stroke-width="1.0"/><line x1="170.88" y1="17.50" x2="170.88" y2="20.30" stroke="#000" stroke-width="1.0"/><line x1="170.88" y1="317.50" x2="170.88" y2="313.90" stroke="#000" stroke-width="1.0"/><line x1="170.88" y1="317.50" x2="170.88" y2="319.90" stroke="#000" stroke-width="1.0"/><line x1="170.88" y1="477.50" x2="170.88" y2="476.20" stroke="#000" stroke-width="1.0"/><line x1="183.42" y1="17.50" x2="183.42" y2="20.30" stroke="#000" stroke-width="1.0"/><line x1="183.42" y1="317.50" x2="183.42" y2="313.90" stroke="#000" stroke-width="1.0"/><line x1="183.42" y1="317.50" x2="183.42" y2="319.90" stroke="#000" stroke-width="1.0"/><line x1="183.42" y1="477.50" x2="183.42" y2="476.20" stroke="#000" stroke-width="1.0"/><line x1="195.96" y1="17.50" x2="195.96" y2="20.30" stroke="#000" stroke-width="1.0"/><line x1="195.96" y1="317.50" x2="195.96" y2="313.90" stroke="#000" stroke-width="1.0"/><line x1="195.96" y1="317.50" x2="195.96" y2="319.90" stroke="#000" stroke-width="1.0"/><line x1="195.96" y1="477.50" x2="195.96" y2="476.20" stroke="#000" stroke-width="1.0"/><line x1="208.50" y1="17.50" x2="208.50" y2="20.30" stroke="#000" stroke-width="1.0"/><line x1="208.50" y1="317.50" x2="208.50" y2="313.90" stroke="#000" stroke-width="1.0"/><line x1="208.50" y1="317.50" x2="208.50" y2="319.90" stroke="#000" stroke-width="1.0"/><line x1="208.50" y1="477.50" x2="208.50" y2="476.20" stroke="#000" stroke-width="1.0"/><line x1="221.04" y1="17.50" x2="221.04" y2="20.30" stroke="#000" stroke-width="1.0"/><line x1="221.04" y1="317.50" x2="221.04" y2="313.90" stroke="#000" stroke-width="1.0"/><line x1="221.04" y1="317.50" x2="221.04" y2="319.90" stroke="#000" stroke-width="1.0"/><line x1="221.04" y1="477.50" x2="221.04" y2="476.20" stroke="#000" stroke-width="1.0"/><line x1="233.58" y1="17.50" x2="233.58" y2="20.30" stroke="#000" stroke-width="1.0"/><line x1="233.58" y1="317.50" x2="233.58" y2="313.90" stroke="#000" stroke-width="1.0"/><line x1="233.58" y1="317.50" x2="233.58" y2="319.90" stroke="#000" stroke-width="1.0"/><line x1="233.58" y1="477.50" x2="233.58" y2="476.20" stroke="#000" stroke-width="1.0"/><line x1="246.12" y1="17.50" x2="246.12" y2="25.70" stroke="#000" stroke-width="1.0"/><line x1="246.12" y1="317.50" x2="246.12" y2="308.80" stroke="#000" stroke-width="1.0"/><line x1="246.12" y1="317.50" x2="246.12" y2="323.00" stroke="#000" stroke-width="1.0"/><line x1="246.12" y1="477.50" x2="246.12" y2="472.50" stroke="#000" stroke-width="1.0"/><line x1="258.65" y1="17.50" x2="258.65" y2="20.30" stroke="#000" stroke-width="1.0"/><line x1="258.65" y1="317.50" x2="258.65" y2="313.90" stroke="#000" stroke-width="1.0"/><line x1="258.65" y1="317.50" x2="258.65" y2="319.90" stroke="#000" stroke-width="1.0"/><line x1="258.65" y1="477.50" x2="258.65" y2="476.20" stroke="#000" stroke-width="1.0"/><line x1="271.19" y1="17.50" x2="271.19" y2="20.30" stroke="#000" stroke-width="1.0"/><line x1="271.19" y1="317.50" x2="271.19" y2="313.90" stroke="#000" stroke-width="1.0"/><line x1="271.19" y1="317.50" x2="271.19" y2="319.90" stroke="#000" stroke-width="1.0"/><line x1="271.19" y1="477.50" x2="271.19" y2="476.20" stroke="#000" stroke-width="1.0"/><line x1="283.73" y1="17.50" x2="283.73" y2="20.30" stroke="#000" stroke-width="1.0"/><line x1="283.73" y1="317.50" x2="283.73" y2="313.90" stroke="#000" stroke-width="1.0"/><line x1="283.73" y1="317.50" x2="283.73" y2="319.90" stroke="#000" stroke-width="1.0"/><line x1="283.73" y1="477.50" x2="283.73" y2="476.20" stroke="#000" stroke-width="1.0"/><line x1="296.27" y1="17.50" x2="296.27" y2="20.30" stroke="#000" stroke-width="1.0"/><line x1="296.27" y1="317.50" x2="296.27" y2="313.90" stroke="#000" stroke-width="1.0"/><line x1="296.27" y1="317.50" x2="296.27" y2="319.90" stroke="#000" stroke-width="1.0"/><line x1="296.27" y1="477.50" x2="296.27" y2="476.20" stroke="#000" stroke-width="1.0"/><line x1="308.81" y1="17.50" x2="308.81" y2="20.30" stroke="#000" stroke-width="1.0"/><line x1="308.81" y1="317.50" x2="308.81" y2="313.90" stroke="#000" stroke-width="1.0"/><line x1="308.81" y1="317.50" x2="308.81" y2="319.90" stroke="#000" stroke-width="1.0"/><line x1="308.81" y1="477.50" x2="308.81" y2="476.20" stroke="#000" stroke-width="1.0"/><line x1="321.35" y1="17.50" x2="321.35" y2="20.30" stroke="#000" stroke-width="1.0"/><line x1="321.35" y1="317.50" x2="321.35" y2="313.90" stroke="#000" stroke-width="1.0"/><line x1="321.35" y1="317.50" x2="321.35" y2="319.90" stroke="#000" stroke-width="1.0"/><line x1="321.35" y1="477.50" x2="321.35" y2="476.20" stroke="#000" stroke-width="1.0"/><line x1="333.88" y1="17.50" x2="333.88" y2="20.30" stroke="#000" stroke-width="1.0"/><line x1="333.88" y1="317.50" x2="333.88" y2="313.90" stroke="#000" stroke-width="1.0"/><line x1="333.88" y1="317.50" x2="333.88" y2="319.90" stroke="#000" stroke-width="1.0"/><line x1="333.88" y1="477.50" x2="333.88" y2="476.20" stroke="#000" stroke-width="1.0"/><line x1="346.42" y1="17.50" x2="346.42" y2="20.30" stroke="#000" stroke-width="1.0"/><line x1="346.42" y1="317.50" x2="346.42" y2="313.90" stroke="#000" stroke-width="1.0"/><line x1="346.42" y1="317.50" x2="346.42" y2="319.90" stroke="#000" stroke-width="1.0"/><line x1="346.42" y1="477.50" x2="346.42" y2="476.20" stroke="#000" stroke-width="1.0"/><line x1="358.96" y1="17.50" x2="358.96" y2="20.30" stroke="#000" stroke-width="1.0"/><line x1="358.96" y1="317.50" x2="358.96" y2="313.90" stroke="#000" stroke-width="1.0"/><line x1="358.96" y1="317.50" x2="358.96" y2="319.90" stroke="#000" stroke-width="1.0"/><line x1="358.96" y1="477.50" x2="358.96" y2="476.20" stroke="#000" stroke-width="1.0"/><line x1="371.50" y1="17.50" x2="371.50" y2="25.70" stroke="#000" stroke-width="1.0"/><line x1="371.50" y1="317.50" x2="371.50" y2="308.80" stroke="#000" stroke-width="1.0"/><line x1="371.50" y1="317.50" x2="371.50" y2="323.00" stroke="#000" stroke-width="1.0"/><line x1="371.50" y1="477.50" x2="371.50" y2="472.50" stroke="#000" stroke-width="1.0"/><line x1="45.50" y1="477.59" x2="50.80" y2="477.59" stroke="#000" stroke-width="1.0"/><line x1="371.50" y1="477.59" x2="366.20" y2="477.59" stroke="#000" stroke-width="1.0"/><line x1="45.50" y1="458.11" x2="53.00" y2="458.11" stroke="#000" stroke-width="1.0"/><line x1="371.50" y1="458.11" x2="364.00" y2="458.11" stroke="#000" stroke-width="1.0"/><line x1="45.50" y1="442.19" x2="50.80" y2="442.19" stroke="#000" stroke-width="1.0"/><line x1="371.50" y1="442.19" x2="366.20" y2="442.19" stroke="#000" stroke-width="1.0"/><line x1="45.50" y1="428.74" x2="50.80" y2="428.74" stroke="#000" stroke-width="1.0"/><line x1="371.50" y1="428.74" x2="366.20" y2="428.74" stroke="#000" stroke-width="1.0"/><line x1="45.50" y1="417.08" x2="50.80" y2="417.08" stroke="#000" stroke-width="1.0"/><line x1="371.50" y1="417.08" x2="366.20" y2="417.08" stroke="#000" stroke-width="1.0"/><line x1="45.50" y1="406.80" x2="50.80" y2="406.80" stroke="#000" stroke-width="1.0"/><line x1="371.50" y1="406.80" x2="366.20" y2="406.80" stroke="#000" stroke-width="1.0"/><line x1="45.50" y1="397.60" x2="53.00" y2="397.60" stroke="#000" stroke-width="1.0"/><line x1="371.50" y1="397.60" x2="364.00" y2="397.60" stroke="#000" stroke-width="1.0"/><line x1="45.50" y1="389.28" x2="50.80" y2="389.28" stroke="#000" stroke-width="1.0"/><line x1="371.50" y1="389.28" x2="366.20" y2="389.28" stroke="#000" stroke-width="1.0"/><line x1="45.50" y1="381.68" x2="50.80" y2="381.68" stroke="#000" stroke-width="1.0"/><line x1="371.50" y1="381.68" x2="366.20" y2="381.68" stroke="#000" stroke-width="1.0"/><line x1="45.50" y1="374.70" x2="50.80" y2="374.70" stroke="#000" stroke-width="1.0"/><line x1="371.50" y1="374.70" x2="366.20" y2="374.70" stroke="#000" stroke-width="1.0"/><line x1="45.50" y1="368.23" x2="50.80" y2="368.23" stroke="#000" stroke-width="1.0"/><line x1="371.50" y1="368.23" x2="366.20" y2="368.23" stroke="#000" stroke-width="1.0"/><line x1="45.50" y1="362.21" x2="50.80" y2="362.21" stroke="#000" stroke-width="1.0"/><line x1="371.50" y1="362.21" x2="366.20" y2="362.21" stroke="#000" stroke-width="1.0"/><line x1="45.50" y1="356.57" x2="50.80" y2="356.57" stroke="#000" stroke-width="1.0"/><line x1="371.50" y1="356.57" x2="366.20" y2="356.57" stroke="#000" stroke-width="1.0"/><line x1="45.50" y1="351.28" x2="50.80" y2="351.28" stroke="#000" stroke-width="1.0"/><line x1="371.50" y1="351.28" x2="366.20" y2="351.28" stroke="#000" stroke-width="1.0"/><line x1="45.50" y1="346.29" x2="50.80" y2="346.29" stroke="#000" stroke-width="1.0"/><line x1="371.50" y1="346.29" x2="366.20" y2="346.29" stroke="#000" stroke-width="1.0"/><line x1="45.50" y1="341.57" x2="50.80" y2="341.57" stroke="#000" stroke-width="1.0"/><line x1="371.50" y1="341.57" x2="366.20" y2="341.57" stroke="#000" stroke-width="1.0"/><line x1="45.50" y1="337.09" x2="53.00" y2="337.09" stroke="#000" stroke-width="1.0"/><line x1="371.50" y1="337.09" x2="364.00" y2="337.09" stroke="#000" stroke-width="1.0"/><line x1="45.50" y1="332.83" x2="50.80" y2="332.83" stroke="#000" stroke-width="1.0"/><line x1="371.50" y1="332.83" x2="366.20" y2="332.83" stroke="#000" stroke-width="1.0"/><line x1="45.50" y1="328.77" x2="50.80" y2="328.77" stroke="#000" stroke-width="1.0"/><line x1="371.50" y1="328.77" x2="366.20" y2="328.77" stroke="#000" stroke-width="1.0"/><line x1="45.50" y1="324.89" x2="50.80" y2="324.89" stroke="#000" stroke-width="1.0"/><line x1="371.50" y1="324.89" x2="366.20" y2="324.89" stroke="#000" stroke-width="1.0"/><line x1="45.50" y1="321.18" x2="50.80" y2="321.18" stroke="#000" stroke-width="1.0"/><line x1="371.50" y1="321.18" x2="366.20" y2="321.18" stroke="#000" stroke-width="1.0"/>
<rect x="45.5" y="17.5" width="326.0" height="300.0" fill="none" stroke="#000" stroke-width="1.0"/>
<rect x="45.5" y="317.5" width="326.0" height="160.0" fill="none" stroke="#000" stroke-width="1.0"/>
<text x="51.32" y="13.60" font-family="Liberation Sans, sans-serif" font-size="12.2" fill="#262626" textLength="77.56" lengthAdjust="spacingAndGlyphs">13000 GeV pp</text>
<text x="335.32" y="13.60" font-family="Liberation Sans, sans-serif" font-size="12.2" fill="#262626" textLength="29.40" lengthAdjust="spacingAndGlyphs">Z+Jet</text>
<text x="76.80" y="41.80" font-family="Liberation Sans, sans-serif" font-size="12.6" fill="#262626" textLength="121.44" lengthAdjust="spacingAndGlyphs">Transmax region, 80 &lt;</text>
<text x="200.66" y="41.80" font-family="Liberation Sans, sans-serif" font-size="12.6" fill="#262626" textLength="6.62" lengthAdjust="spacingAndGlyphs">p</text>
<text x="204.56" y="37.70" font-family="Liberation Sans, sans-serif" font-size="9.3" fill="#262626" textLength="4.92" lengthAdjust="spacingAndGlyphs">Z</text>
<text x="205.28" y="48.90" font-family="Liberation Sans, sans-serif" font-size="8.7" fill="#262626" textLength="4.60" lengthAdjust="spacingAndGlyphs">T</text>
<text x="212.40" y="41.80" font-family="Liberation Sans, sans-serif" font-size="12.6" fill="#262626" textLength="128.60" lengthAdjust="spacingAndGlyphs">&lt; 120 [GeV], high thrust</text>
<text transform="translate(15.00,166.56) rotate(-90)" font-family="Liberation Sans, sans-serif" font-size="12.6" fill="#262626" textLength="148.72" lengthAdjust="spacingAndGlyphs">1/N<tspan font-size="9" dy="3.8">ev</tspan><tspan dy="-3.8"> dN</tspan><tspan font-size="9" dy="3.8">ev</tspan><tspan dy="-3.8">/d mean p</tspan><tspan font-size="9" dy="3.8">T</tspan><tspan dy="-3.8"> [GeV]</tspan><tspan font-size="8" dy="-6.2">1</tspan></text>
<text transform="translate(18.70,426.84) rotate(-90)" font-family="Liberation Sans, sans-serif" font-size="10.6" fill="#262626" textLength="61.52" lengthAdjust="spacingAndGlyphs">Ratio to ATLAS</text>
<text x="162.62" y="301.90" font-family="Liberation Sans, sans-serif" font-size="8.9" fill="#909090" textLength="89.52" lengthAdjust="spacingAndGlyphs">(ATLAS_2019_I1736531)</text>
<text x="289.22" y="500.90" font-family="Liberation Sans, sans-serif" font-size="12.8" fill="#262626" textLength="41.52" lengthAdjust="spacingAndGlyphs">Mean p</text>
<text x="330.04" y="508.50" font-family="Liberation Sans, sans-serif" font-size="8.7" fill="#262626" textLength="4.32" lengthAdjust="spacingAndGlyphs">T</text>
<text x="334.50" y="500.90" font-family="Liberation Sans, sans-serif" font-size="12.8" fill="#262626" textLength="34.16" lengthAdjust="spacingAndGlyphs">/d&#951; d&#981;</text>
<text transform="translate(380.10,119.30) rotate(-90)" font-family="Liberation Sans, sans-serif" font-size="9.8" fill="#858585" textLength="101.08" lengthAdjust="spacingAndGlyphs">Rivet 4.1.0, &#8805; 2M events</text>
<text transform="translate(380.40,314.08) rotate(-90)" font-family="Liberation Sans, sans-serif" font-size="9.8" fill="#858585" textLength="143.04" lengthAdjust="spacingAndGlyphs">mcplots.cern.ch [arXiv:1306.3436]</text>
<g font-family="Liberation Sans, sans-serif" fill="#262626">
<text x="40.4" y="48.80" font-size="11.3" text-anchor="end">10</text>
<text x="40.4" y="105.10" font-size="11.3" text-anchor="end">1</text>
<text x="40.2" y="161.80" font-size="11.3" text-anchor="end">10<tspan font-size="7.2" dy="-5.2">&#8722;1</tspan></text>
<text x="40.2" y="218.10" font-size="11.3" text-anchor="end">10<tspan font-size="7.2" dy="-5.2">&#8722;2</tspan></text>
<text x="40.2" y="274.40" font-size="11.3" text-anchor="end">10<tspan font-size="7.2" dy="-5.2">&#8722;3</tspan></text>
<text x="38.3" y="341.29" font-size="11.3" text-anchor="end">2</text>
<text x="38.3" y="401.80" font-size="11.3" text-anchor="end">1</text>
<text x="38.3" y="462.31" font-size="11.3" text-anchor="end">0.5</text>
<text x="373.3" y="341.29" font-size="11.3">2</text>
<text x="373.3" y="401.80" font-size="11.3">1</text>
<text x="373.3" y="462.31" font-size="11.3">0.5</text>
<text x="120.73" y="489" font-size="11.3" text-anchor="middle">1</text>
<text x="246.12" y="489" font-size="11.3" text-anchor="middle">2</text>
<text x="371.50" y="489" font-size="11.3" text-anchor="middle">3</text>
</g>
<rect x="73.80" y="207.85" width="5.40" height="5.40" fill="#000"/>
<line x1="64" y1="223.59" x2="88.5" y2="223.59" stroke="#b5652a" stroke-width="0.9" stroke-dasharray="2.6,1.9"/>
<circle cx="76.50" cy="223.59" r="2.55" fill="none" stroke="#b5652a" stroke-width="1.15"/>
<line x1="64" y1="236.63" x2="88.5" y2="236.63" stroke="#3fa33f" stroke-width="0.9" stroke-dasharray="2.6,1.9"/>
<rect x="73.75" y="233.88" width="5.50" height="5.50" fill="none" stroke="#3fa33f" stroke-width="1.05"/>
<line x1="64" y1="249.67" x2="88.5" y2="249.67" stroke="#0000f0" stroke-width="0.9"/>
<path d="M76.50,246.37L79.40,252.17L73.60,252.17Z" fill="#0000f0"/>
<line x1="64" y1="262.71" x2="88.5" y2="262.71" stroke="#1e9cc0" stroke-width="0.9" stroke-dasharray="4,2,1,2"/>
<path d="M76.50,266.01L79.40,260.21L73.60,260.21Z" fill="#1e9cc0"/>
<line x1="64" y1="275.75" x2="88.5" y2="275.75" stroke="#ff0000" stroke-width="0.9" stroke-dasharray="1.2,1"/>
<path d="M76.50,272.25L78.90,275.75L76.50,279.25L74.10,275.75Z" fill="#ff0000"/>
<text x="94.24" y="213.80" font-family="Liberation Sans, sans-serif" font-size="10.0" fill="#262626" textLength="28.80" lengthAdjust="spacingAndGlyphs">ATLAS</text>
<text x="93.92" y="226.84" font-family="Liberation Sans, sans-serif" font-size="10.0" fill="#262626" textLength="94.36" lengthAdjust="spacingAndGlyphs">Herwig++ 2.7.1 default</text>
<text x="93.92" y="239.88" font-family="Liberation Sans, sans-serif" font-size="10.0" fill="#262626" textLength="83.44" lengthAdjust="spacingAndGlyphs">Herwig 7.2.1 default</text>
<text x="93.92" y="252.92" font-family="Liberation Sans, sans-serif" font-size="10.0" fill="#262626" textLength="83.44" lengthAdjust="spacingAndGlyphs">Pythia 8.315 default</text>
<text x="93.92" y="265.96" font-family="Liberation Sans, sans-serif" font-size="10.0" fill="#262626" textLength="110.44" lengthAdjust="spacingAndGlyphs">Pythia 8.315 vincia-default</text>
<text x="93.96" y="279.00" font-family="Liberation Sans, sans-serif" font-size="10.0" fill="#262626" textLength="84.40" lengthAdjust="spacingAndGlyphs">Sherpa 2.2.9 default</text>
</svg></body></html>
